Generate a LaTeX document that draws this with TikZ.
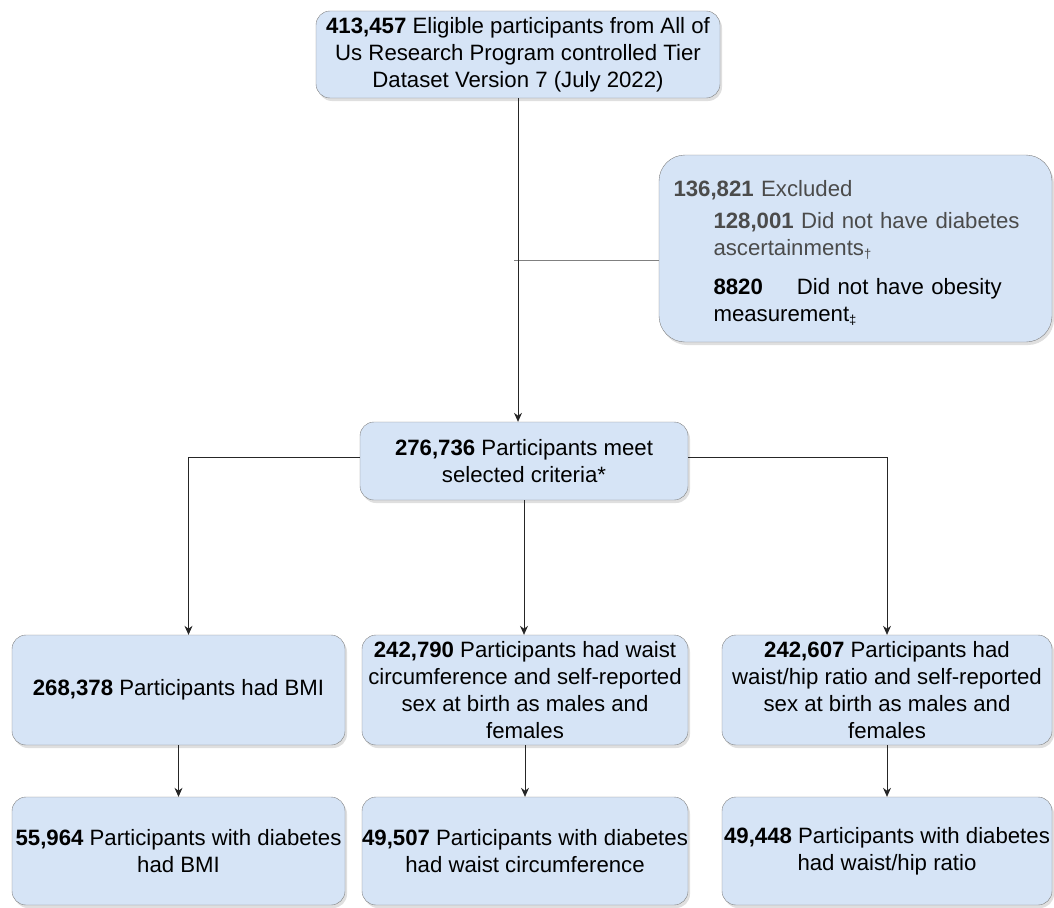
\documentclass[tikz,border=0pt]{standalone}
\usepackage{fontspec}
\setmainfont{Liberation Sans}
\usetikzlibrary{arrows.meta,shadows}
\definecolor{boxblue}{RGB}{214,228,246}
\definecolor{boxline}{RGB}{128,128,128}
\definecolor{exgray}{RGB}{75,75,75}
\tikzset{flowbox/.style={draw=boxline, fill=boxblue, rounded corners=14pt,
    align=center, inner xsep=0pt, inner ysep=3pt,
    font=\fontsize{22.2}{26.8}\selectfont,
    drop shadow={opacity=0.25, shadow xshift=2pt, shadow yshift=-3pt}},
  flowarrow/.style={-{Stealth[length=9pt,width=8pt]}, line width=0.8pt, draw=black!85},
  exline/.style={line width=1pt, draw=boxline}
}
\newcommand{\notemark}[1]{{\fontsize{13}{13}\selectfont\raisebox{-3pt}{#1}}}

\begin{document}
\begin{tikzpicture}[x=1pt,y=-1pt]
    \useasboundingbox (0,0) rectangle (1054,907);

    % Cohort
    \node[flowbox, minimum width=404pt, minimum height=87pt] (elig) at (518,54.5)
        {\textbf{413,457} Eligible participants from All of\\Us Research Program controlled Tier\\Dataset Version 7 (July 2022)};

    \node[flowbox, rounded corners=26pt, minimum width=393pt, minimum height=187pt,
          text width=364pt, align=left] (excl) at (855.5,248.5)
        {{\color{exgray}\rule{0pt}{25pt}\textbf{136,821} Excluded}\\[5pt]
         \hspace*{40pt}{\color{exgray}\textbf{128,001} Did not have diabetes}\\
         \hspace*{40pt}{\color{exgray}ascertainments\notemark{†}}\\[13pt]
         \hspace*{40pt}\textbf{8820}\hspace{34pt}Did not have obesity\\
         \hspace*{40pt}measurement\notemark{‡}};

    \node[flowbox, minimum width=328pt, minimum height=78pt] (meet) at (524,461)
        {\textbf{276,736} Participants meet\\selected criteria*};

    % Obesity measures
    \node[flowbox, minimum width=333pt, minimum height=110pt] (bmi) at (178.5,690)
        {\textbf{268,378} Participants had BMI};
    \node[flowbox, minimum width=326pt, minimum height=110pt] (waist) at (525,690)
        {\textbf{242,790} Participants had waist\\circumference and self-reported\\sex at birth as males and\\females};
    \node[flowbox, minimum width=330pt, minimum height=110pt] (ratio) at (887,690)
        {\textbf{242,607} Participants had\\waist/hip ratio and self-reported\\sex at birth as males and\\females};

    % With diabetes
    \node[flowbox, minimum width=333pt, minimum height=108pt] (dmbmi) at (178.5,851)
        {\textbf{55,964} Participants with diabetes\\had BMI};
    \node[flowbox, minimum width=326pt, minimum height=108pt] (dmwaist) at (525,851)
        {\textbf{49,507} Participants with diabetes\\had waist circumference};
    \node[flowbox, minimum width=330pt, minimum height=108pt] (dmratio) at (887,851)
        {\textbf{49,448} Participants with diabetes\\had waist/hip ratio};

    % Connectors
    \coordinate (tee) at (514,260);
    \draw[exline] (tee) -- (tee -| excl.west);
    \draw[flowarrow] (elig.south) -- (elig.south |- meet.north);

    \draw[flowarrow] ([yshift=4pt]meet.west) -| ([xshift=10pt]bmi.north);
    \draw[flowarrow] (meet.south) -- (meet.south |- waist.north);
    \draw[flowarrow] ([yshift=4pt]meet.east) -| (ratio.north);

    \foreach \a/\b in {bmi/dmbmi, waist/dmwaist, ratio/dmratio}
        \draw[flowarrow] (\a.south) -- (\b.north);
\end{tikzpicture}
\end{document}
